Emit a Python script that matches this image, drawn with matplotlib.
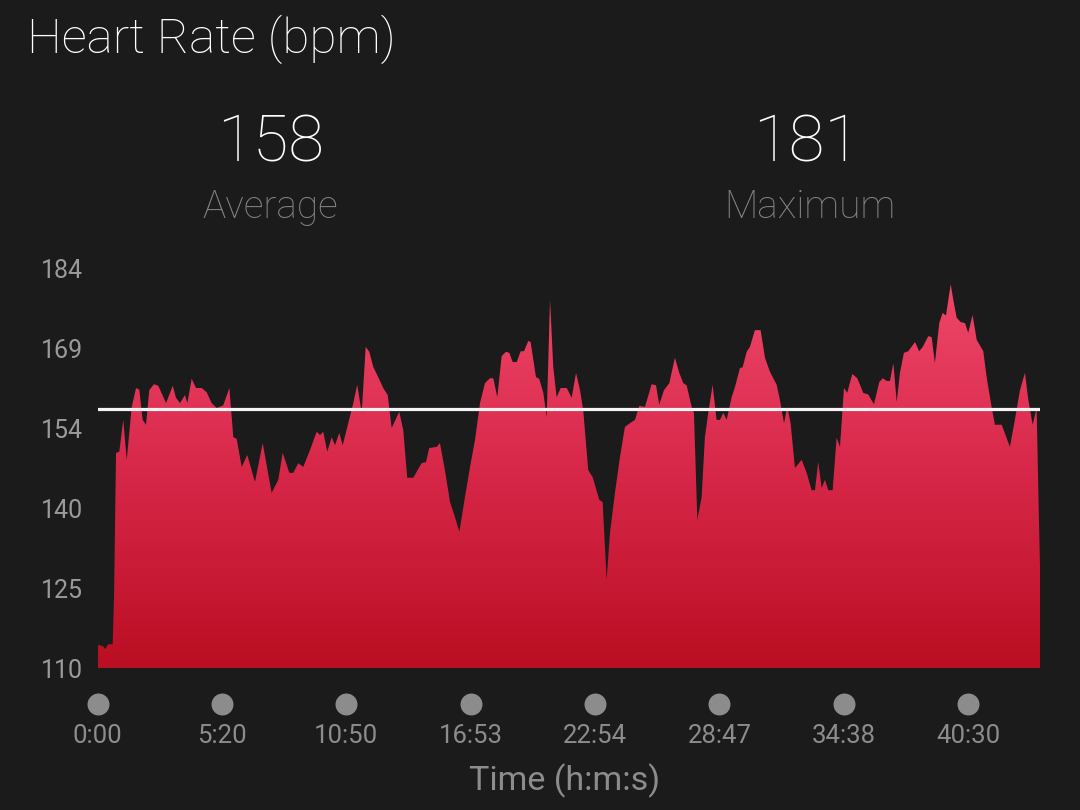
import matplotlib

matplotlib.use("Agg")
import matplotlib.pyplot as plt
import numpy as np
from matplotlib.colors import LinearSegmentedColormap
from matplotlib.patches import Polygon

plt.rcParams["font.family"] = ["Roboto", "DejaVu Sans"]

# distance along the activity (one unit per time marker) and heart rate in bpm
dist = [
    0.000, 0.047, 0.060, 0.087, 0.122, 0.133, 0.149, 0.175, 0.207, 0.235,
    0.275, 0.310, 0.336, 0.363, 0.390, 0.416, 0.454, 0.489, 0.551, 0.605,
    0.631, 0.663, 0.703, 0.722, 0.757, 0.792, 0.838, 0.878, 0.918, 0.958,
    1.011, 1.060, 1.092, 1.119, 1.159, 1.204, 1.266, 1.328, 1.400, 1.453,
    1.489, 1.542, 1.574, 1.614, 1.654, 1.708, 1.762, 1.789, 1.815, 1.847,
    1.883, 1.909, 1.944, 1.971, 2.016, 2.056, 2.088, 2.124, 2.156, 2.185,
    2.217, 2.257, 2.297, 2.333, 2.365, 2.426, 2.458, 2.490, 2.539, 2.566,
    2.606, 2.641, 2.667, 2.727, 2.753, 2.793, 2.834, 2.874, 2.909, 2.954,
    2.995, 3.035, 3.075, 3.115, 3.155, 3.182, 3.214, 3.249, 3.284, 3.311,
    3.338, 3.370, 3.402, 3.429, 3.463, 3.482, 3.525, 3.551, 3.584, 3.611,
    3.638, 3.664, 3.691, 3.724, 3.772, 3.812, 3.847, 3.879, 3.905, 3.945,
    3.981, 4.034, 4.061, 4.093, 4.120, 4.160, 4.200, 4.240, 4.281, 4.321,
    4.355, 4.401, 4.455, 4.490, 4.516, 4.554, 4.597, 4.642, 4.677, 4.709,
    4.736, 4.777, 4.795, 4.822, 4.857, 4.883, 4.910, 4.945, 4.977, 5.004,
    5.031, 5.058, 5.098, 5.125, 5.165, 5.186, 5.219, 5.245, 5.285, 5.331,
    5.366, 5.406, 5.460, 5.486, 5.519, 5.545, 5.572, 5.607, 5.661, 5.701,
    5.741, 5.768, 5.794, 5.822, 5.848, 5.875, 5.910, 5.942, 5.969, 6.001,
    6.027, 6.068, 6.108, 6.156, 6.196, 6.242, 6.285, 6.313, 6.345, 6.371,
    6.398, 6.425, 6.451, 6.483, 6.518, 6.572, 6.606, 6.634, 6.679, 6.706,
    6.732, 6.767, 6.794, 6.821, 6.859, 6.880, 6.907, 6.939, 6.974, 7.000,
    7.035, 7.068, 7.121, 7.148, 7.188, 7.215, 7.269, 7.335, 7.375, 7.416,
    7.456, 7.483, 7.518, 7.550, 7.566, 7.577,
]
hr = [
    114.3, 114.0, 113.5, 114.4, 114.4, 123.1, 149.8, 150.0, 155.9, 148.5,
    158.3, 161.8, 161.5, 155.9, 155.0, 161.4, 162.5, 162.2, 159.0, 162.2,
    160.0, 159.0, 160.5, 159.0, 163.5, 161.8, 161.8, 161.0, 159.0, 158.1,
    158.6, 161.8, 152.7, 152.4, 147.2, 149.4, 144.4, 151.6, 142.4, 144.8,
    149.8, 146.1, 146.1, 147.9, 147.2, 150.3, 153.7, 153.1, 153.7, 150.0,
    152.7, 151.2, 153.5, 151.2, 155.3, 159.0, 162.4, 157.2, 169.4, 168.5,
    165.7, 163.8, 161.8, 160.5, 154.4, 157.4, 154.0, 145.2, 145.2, 146.3,
    147.9, 148.1, 150.7, 150.9, 151.6, 146.6, 140.7, 137.9, 135.2, 141.6,
    147.2, 152.2, 159.0, 162.7, 163.6, 163.6, 160.1, 167.7, 168.5, 168.3,
    166.6, 166.6, 168.6, 168.6, 170.5, 170.3, 163.8, 163.5, 160.9, 156.4,
    178.1, 165.7, 160.1, 161.8, 161.8, 160.0, 164.6, 161.4, 157.7, 146.6,
    145.3, 141.1, 140.7, 126.3, 135.0, 142.4, 149.0, 154.6, 155.3, 155.9,
    158.5, 158.3, 162.5, 162.3, 158.7, 161.4, 162.7, 167.4, 164.6, 162.7,
    162.3, 158.3, 157.2, 137.4, 141.6, 152.7, 157.2, 162.4, 155.9, 155.9,
    157.2, 155.9, 160.1, 162.0, 165.5, 165.6, 168.5, 169.4, 172.5, 172.5,
    167.4, 164.8, 162.4, 159.6, 155.3, 158.3, 155.3, 147.0, 148.5, 146.1,
    142.9, 142.9, 148.1, 143.3, 144.8, 142.9, 142.9, 152.6, 150.9, 161.8,
    160.9, 164.4, 163.6, 160.9, 160.6, 158.8, 162.9, 163.6, 163.1, 163.1,
    166.4, 159.2, 164.6, 168.3, 168.6, 170.3, 168.6, 169.4, 171.4, 171.2,
    166.4, 173.8, 175.7, 175.2, 181.0, 178.1, 174.8, 174.0, 173.8, 172.0,
    175.3, 170.7, 168.6, 163.8, 158.3, 155.0, 155.0, 150.9, 155.9, 161.4,
    164.6, 159.6, 155.0, 158.1, 140.0, 128.7,
]
marker_pos = [0, 1, 2, 3, 4, 5, 6, 7]
marker_labels = ["0:00", "5:20", "10:50", "16:53", "22:54", "28:47", "34:38", "40:30"]
avg_hr = 158
max_hr = 181
y_min, y_max = 110, 184

BG = "#1b1b1b"
GREY = "#8c8c8c"

fig = plt.figure(figsize=(10.8, 8.1), dpi=100, facecolor=BG)
ax = fig.add_axes([97.5 / 1080, 142 / 810, 942.5 / 1080, 400 / 810])
ax.set_facecolor(BG)
ax.set_xlim(0, dist[-1])
ax.set_ylim(y_min, y_max)

# gradient area: image clipped to the heart rate polygon
cmap = LinearSegmentedColormap.from_list("hr", ["#ba0e22", "#d8284a", "#f14a6c"])
grad = np.linspace(0, 1, 256).reshape(-1, 1)
im = ax.imshow(grad, extent=[0, dist[-1], y_min, y_max], origin="lower",
               aspect="auto", cmap=cmap, zorder=1)
verts = [(dist[0], y_min)] + list(zip(dist, hr)) + [(dist[-1], y_min)]
poly = Polygon(verts, closed=True, facecolor="none", edgecolor="none")
ax.add_patch(poly)
im.set_clip_path(poly)

ax.axhline(avg_hr, color="#f4f4f4", lw=2.3, zorder=3)

yt = np.linspace(y_min, y_max, 6)
ax.set_yticks(yt)
ax.set_yticklabels([f"{v:.0f}" for v in yt])
ax.tick_params(axis="y", length=0, pad=10.5, labelsize=18, labelcolor="#9a9a9a")
ax.set_xticks([])
for s in ax.spines.values():
    s.set_visible(False)

# time markers under the chart
xt = ax.get_xaxis_transform()
ax.scatter(marker_pos, [-0.089] * len(marker_pos), s=250, color=GREY,
           transform=xt, clip_on=False, linewidths=0)
for p, lab in zip(marker_pos, marker_labels):
    ax.text(p, -0.188, lab, transform=xt, ha="center", va="baseline",
            fontsize=18.5, color=GREY)

fig.text(564.5 / 1080, 1 - 790 / 810, "Time (h:m:s)", ha="center", va="baseline",
         fontsize=24.5, color=GREY)

fig.text(27 / 1080, 1 - 53 / 810, "Heart Rate (bpm)", ha="left", va="baseline",
         fontsize=35.6, color="white", fontweight="light")
fig.text(271 / 1080, 1 - 162 / 810, f"{avg_hr}", ha="center", va="baseline",
         fontsize=47, color="white", fontweight="light")
fig.text(270 / 1080, 1 - 218.5 / 810, "Average", ha="center", va="baseline",
         fontsize=28, color="#858585", fontweight="light")
fig.text(807 / 1080, 1 - 162 / 810, f"{max_hr}", ha="center", va="baseline",
         fontsize=47, color="white", fontweight="light")
fig.text(810 / 1080, 1 - 218.5 / 810, "Maximum", ha="center", va="baseline",
         fontsize=28, color="#858585", fontweight="light")

fig.savefig("out.png", dpi=100, facecolor=BG)
